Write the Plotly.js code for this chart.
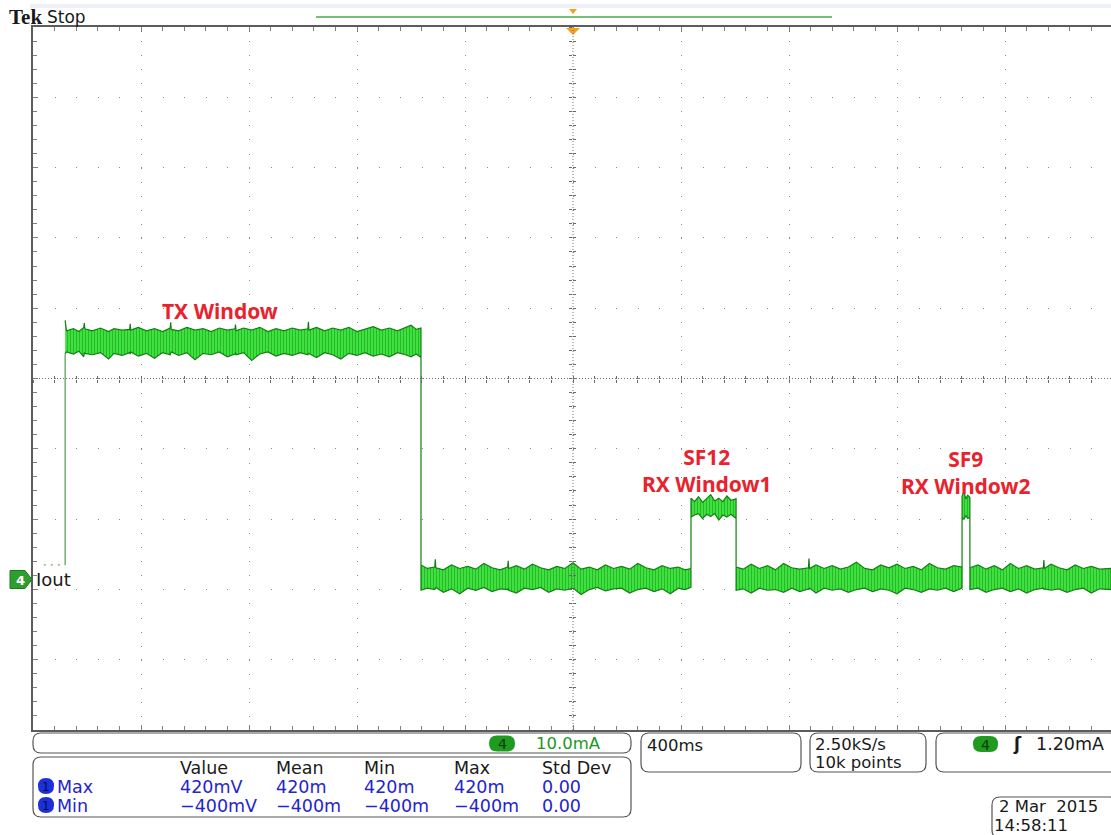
<!DOCTYPE html>
<html><head><meta charset="utf-8">
<script src="https://cdn.plot.ly/plotly-3.0.1.min.js"></script>
<style>html,body{margin:0;padding:0;background:#fff}#chart{width:1111px;height:835px}</style>
</head><body><div id="chart"></div>
<script>
// ---- Channel 4 (Iout) trace envelope, time in s (trigger = 0), current in mA ----
const preTime  = [-1.96, -1.881];
const preLevel = [2.0, 2.0];

const txTime = [-1.881,-1.876,-1.85,-1.83,-1.812,-1.81,-1.808,-1.78,-1.75,-1.72,-1.70,-1.67,-1.642,-1.64,-1.638,-1.61,-1.58,-1.55,-1.52,-1.492,-1.49,-1.488,-1.46,-1.43,-1.40,-1.37,-1.34,-1.31,-1.28,-1.252,-1.25,-1.248,-1.22,-1.19,-1.16,-1.13,-1.10,-1.07,-1.04,-1.01,-0.982,-0.98,-0.978,-0.95,-0.92,-0.89,-0.86,-0.83,-0.80,-0.77,-0.74,-0.71,-0.68,-0.65,-0.62,-0.60,-0.58,-0.563];
const txHigh = [36.8,35.3,35.6,35.2,35.8,36.4,35.6,35.3,35.7,35.2,35.6,35.4,35.5,36.3,35.4,35.8,35.3,35.6,35.2,35.7,36.5,35.5,35.3,35.8,35.4,35.6,35.2,35.7,35.4,35.6,36.2,35.3,35.7,35.4,35.8,35.2,35.6,35.3,35.7,35.4,35.6,36.6,35.4,35.8,35.3,35.7,35.4,35.8,35.2,35.6,35.9,35.4,35.7,35.3,35.8,36.1,35.5,35.7];
const txLow  = [32.0,32.3,32.0,32.4,31.6,32.2,32.1,31.9,32.2,31.3,32.1,31.8,32.2,32.0,32.3,31.7,32.1,31.4,32.2,31.9,32.1,32.3,31.8,32.2,31.2,32.1,31.9,32.3,31.6,32.0,32.2,31.9,32.2,31.1,32.0,32.3,31.7,32.1,31.8,32.2,31.9,32.1,32.0,31.5,32.2,31.9,31.3,32.1,31.8,32.2,31.7,32.0,31.6,32.2,31.9,31.6,32.0,31.5];

const idle1Time = [-0.563,-0.54,-0.512,-0.51,-0.508,-0.48,-0.45,-0.42,-0.39,-0.36,-0.33,-0.30,-0.27,-0.242,-0.24,-0.238,-0.21,-0.18,-0.15,-0.12,-0.09,-0.06,-0.03,0.0,0.03,0.06,0.09,0.12,0.15,0.18,0.21,0.24,0.27,0.30,0.33,0.36,0.39,0.415,0.437];
const idle1High = [2.0,1.5,1.7,2.8,1.6,1.3,2.0,1.5,1.8,1.4,2.2,1.6,1.3,1.7,2.6,1.5,1.9,1.4,2.1,1.6,1.3,1.8,1.5,2.3,1.4,1.7,1.3,2.0,1.5,1.8,1.4,2.2,1.6,1.3,1.9,1.5,1.7,1.3,1.5];
const idle1Low  = [-1.6,-1.3,-1.5,-1.4,-1.2,-1.9,-1.4,-2.1,-1.3,-1.6,-1.2,-1.8,-1.4,-1.5,-1.3,-1.6,-2.0,-1.3,-1.5,-1.2,-1.9,-1.4,-1.6,-1.3,-2.2,-1.5,-1.2,-1.7,-1.4,-1.3,-2.0,-1.5,-1.3,-1.8,-1.4,-2.1,-1.3,-1.5,-1.2];

const rx1Time = [0.437,0.45,0.465,0.48,0.495,0.51,0.525,0.54,0.555,0.57,0.585,0.604];
const rx1High = [11.5,11.0,11.7,10.9,11.4,12.0,11.1,11.5,11.0,11.8,11.2,11.4];
const rx1Low  = [8.8,9.1,9.3,8.6,9.2,8.9,9.3,8.4,9.1,8.8,9.2,8.6];

const idle2Time = [0.604,0.63,0.66,0.69,0.72,0.75,0.78,0.81,0.84,0.872,0.874,0.876,0.90,0.93,0.96,0.99,1.02,1.05,1.08,1.11,1.14,1.17,1.20,1.23,1.26,1.29,1.32,1.35,1.38,1.41,1.441];
const idle2High = [1.7,1.4,2.1,1.5,1.9,1.3,2.2,1.6,1.4,1.6,2.9,1.5,2.0,1.5,1.9,1.4,1.7,2.4,1.5,1.3,2.0,1.6,2.1,1.5,1.8,1.3,2.2,1.6,1.4,1.9,1.7];
const idle2Low  = [-1.6,-1.4,-2.0,-1.3,-1.6,-1.5,-1.9,-1.3,-1.8,-1.4,-1.5,-1.3,-2.0,-1.3,-1.6,-1.4,-1.9,-1.5,-1.3,-1.8,-1.4,-1.6,-2.1,-1.3,-1.5,-1.9,-1.4,-1.6,-1.3,-1.8,-1.3];

const rx2Time = [1.441,1.448,1.455,1.462,1.470];
const rx2High = [11.8,12.4,11.4,11.9,11.6];
const rx2Low  = [8.8,8.5,9.0,8.6,8.8];

const idle3Time = [1.470,1.50,1.53,1.56,1.59,1.62,1.65,1.68,1.71,1.742,1.744,1.746,1.77,1.80,1.83,1.86,1.89,1.92,1.95,1.993];
const idle3High = [1.6,2.0,1.4,1.9,1.3,2.2,1.5,1.9,1.4,1.6,2.7,1.5,2.1,1.6,1.3,2.0,1.5,1.8,1.4,1.5];
const idle3Low  = [-1.5,-1.3,-1.9,-1.5,-1.3,-1.8,-1.4,-2.0,-1.5,-1.3,-1.5,-1.4,-1.6,-1.4,-1.9,-1.5,-1.3,-2.0,-1.4,-1.5];

// ---- Labels on the trace ----
const labelTexts  = ['TX Window','SF12<br>RX Window1','SF9<br>RX Window2'];
const labelTimes  = [-1.307, 0.496, 1.456];
const labelLevels = [38.1, 15.5, 15.2];

// ---- Readouts ----
const chScale = '10.0mA';
const timebase = '400ms';
const sampleRate = '2.50kS/s';
const recordLen = '10k points';
const trigLevel = '1.20mA';
const dateText = '2 Mar\u00a0 2015';
const clockText = '14:58:11';
const measHeaders = ['Value','Mean','Min','Max','Std Dev'];
const measNames = ['Max','Min'];
const measRows = [
  ['420mV','420m','420m','420m','0.00'],
  ['\u2212400mV','\u2212400m','\u2212400m','\u2212400m','0.00']
];

// ---- Geometry ----
const W=1111, H=835, L=33, R=0, T=27, B=105;
const PW=W-L-R, PH=H-T-B;
const pxPerSec = 108/0.4;
const xLeft = -2.0, xRight = xLeft + PW/pxPerSec;
const pxPerMA = (PH/10)/10;            // 10 divisions, 10 mA/div
const zeroPx = 579;
const yTop = (zeroPx - T)/pxPerMA, yBot = yTop - 100;
const yMid = (yTop + yBot)/2;
const px = x => (x - L)/PW;
const py = y => (H - B - y)/PH;

// envelope polygon
const envTime = [].concat(txTime, idle1Time, rx1Time, idle2Time, rx2Time, idle3Time);
const envHigh = [].concat(txHigh, idle1High, rx1High, idle2High, rx2High, idle3High);
const envLow  = [].concat(txLow, idle1Low, rx1Low, idle2Low, rx2Low, idle3Low);
const polyT = envTime.concat(envTime.slice().reverse());
const polyV = envHigh.concat(envLow.slice().reverse());

const traces = [
  {x: preTime, y: preLevel, type:'scatter', mode:'lines', hoverinfo:'skip',
   line:{color:'#3a9a3a', width:1, dash:'2px,5px'}},
  {x: [envTime[0], envTime[0]], y: [preLevel[preLevel.length-1], envLow[0]], type:'scatter', mode:'lines',
   hoverinfo:'skip', line:{color:'#2a8a2a', width:1}},
  {x: polyT, y: polyV, type:'scatter', mode:'lines', fill:'toself', hoverinfo:'skip',
   fillcolor:'#38dc38', line:{color:'#137f13', width:1.2},
   fillpattern:{shape:'|', size:3, solidity:0.25, fgcolor:'#24a824', bgcolor:'#3ee23e', fillmode:'replace'}},
  {x:[], y:[], xaxis:'x2', yaxis:'y', hoverinfo:'skip'},
  {x:[], y:[], xaxis:'x3', yaxis:'y', hoverinfo:'skip'},
  {x:[], y:[], xaxis:'x', yaxis:'y2', hoverinfo:'skip'},
  {x:[], y:[], xaxis:'x', yaxis:'y3', hoverinfo:'skip'}
];

function rbox(x0,y0,x1,y1,r){
  const X=px, Y=py;
  return `M${X(x0+r)},${Y(y0)} L${X(x1-r)},${Y(y0)} Q${X(x1)},${Y(y0)} ${X(x1)},${Y(y0+r)} `+
         `L${X(x1)},${Y(y1-r)} Q${X(x1)},${Y(y1)} ${X(x1-r)},${Y(y1)} L${X(x0+r)},${Y(y1)} `+
         `Q${X(x0)},${Y(y1)} ${X(x0)},${Y(y1-r)} L${X(x0)},${Y(y0+r)} Q${X(x0)},${Y(y0)} ${X(x0+r)},${Y(y0)} Z`;
}
function poly(pts){
  return 'M' + pts.map(p => px(p[0]) + ',' + py(p[1])).join(' L') + ' Z';
}
const boxLine = {color:'#555', width:1.2};
const shapes = [
  {type:'rect', xref:'paper', yref:'paper', x0:px(30), x1:px(1111), y0:py(4), y1:py(8), fillcolor:'#eef0f7', line:{width:0}, layer:'below'},
  {type:'line', xref:'paper', yref:'paper', x0:px(316), x1:px(832), y0:py(17), y1:py(17), line:{color:'#4aa84a', width:1.5}},
  {type:'path', xref:'paper', yref:'paper', path:poly([[569,9],[577,9],[573,14]]), fillcolor:'#f3a01d', line:{width:0}},
  {type:'path', xref:'paper', yref:'paper', path:poly([[566,28],[580,28],[573,35]]), fillcolor:'#f3a01d', line:{width:0}},
  {type:'line', xref:'x', yref:'paper', x0:0, x1:0, y0:0, y1:1, line:{color:'#707070', width:1, dash:'1px,2px'}},
  {type:'line', xref:'paper', yref:'y', x0:0, x1:1, y0:yMid, y1:yMid, line:{color:'#707070', width:1, dash:'1px,2px'}},
  {type:'path', xref:'paper', yref:'paper', path:poly([[10,570.5],[25,570.5],[32,579.5],[25,588.5],[10,588.5]]), fillcolor:'#2e9e2e', line:{color:'#1c7c1c', width:1}},
  {type:'path', xref:'paper', yref:'paper', path:rbox(33,733,631,753,8), line:boxLine},
  {type:'path', xref:'paper', yref:'paper', path:rbox(33,757,631,817,8), line:boxLine},
  {type:'path', xref:'paper', yref:'paper', path:rbox(641,733,801,772,8), line:boxLine},
  {type:'path', xref:'paper', yref:'paper', path:rbox(810,733,926,772,8), line:boxLine},
  {type:'path', xref:'paper', yref:'paper', path:rbox(936,733,1118,772,8), line:boxLine},
  {type:'path', xref:'paper', yref:'paper', path:rbox(992,797,1118,838,8), line:boxLine},
  {type:'path', xref:'paper', yref:'paper', path:rbox(489,735.5,515,751.5,8), fillcolor:'#1f9c1f', line:{width:0}},
  {type:'path', xref:'paper', yref:'paper', path:rbox(973,736,998,752,8), fillcolor:'#1f9c1f', line:{width:0}},
  {type:'path', xref:'paper', yref:'paper', path:rbox(38,778,54,794,8), fillcolor:'#1c2fd8', line:{width:0}},
  {type:'path', xref:'paper', yref:'paper', path:rbox(38,797,54,813,8), fillcolor:'#1c2fd8', line:{width:0}}
];

const F = 'DejaVu Sans';
const black = '#1a1a1a', blue = '#2424cc', green = '#1b991b', red = '#e8232d';
function txt(text, x, y, opt){
  opt = opt || {};
  return {text:text, xref:'paper', yref:'paper', x:px(x), y:py(y), xanchor:opt.anchor||'left', yanchor:'middle',
          align:'left', showarrow:false, borderpad:0,
          font:{family:opt.family||F, size:opt.size||16, color:opt.color||black, weight:opt.weight||'normal'}};
}
const annotations = [];
annotations.push(txt('Tek', 8, 17.5, {family:'Liberation Serif', size:21, weight:'bold'}));
annotations.push(txt('Stop', 46, 17, {size:17}));
annotations.push(txt('4', 20, 580, {size:13, color:'#ffffff', anchor:'center', weight:'bold'}));
annotations.push(txt('Iout', 35, 579, {size:18}));
annotations.push(txt('4', 502, 744, {size:14, color:'#0b3b0b', anchor:'center'}));
annotations.push(txt(chScale, 535, 743.5, {color:green, size:16.5}));
const colX = [179, 275, 363, 453, 541];
measHeaders.forEach((h,i) => annotations.push(txt(h, colX[i], 767.5, {size:17.5})));
const rowY = [786.5, 805.5];
measNames.forEach((n,r) => {
  annotations.push(txt('1', 46, rowY[r], {size:12, color:'#0a0a4a', anchor:'center'}));
  annotations.push(txt(n, 56, rowY[r], {color:blue, size:17.5}));
  measRows[r].forEach((v,i) => annotations.push(txt(v, colX[i], rowY[r], {color:blue, size:17.5})));
});
annotations.push(txt(timebase, 646, 745, {size:16.5}));
annotations.push(txt(sampleRate, 814, 744, {size:16.5}));
annotations.push(txt(recordLen, 814, 762.5, {size:16.5}));
annotations.push(txt('4', 985.5, 744.5, {size:14, color:'#0b3b0b', anchor:'center'}));
annotations.push(txt('\u0283', 1012, 744, {size:17, weight:'bold'}));
annotations.push(txt(trigLevel, 1035, 744, {size:17.5}));
annotations.push(txt(dateText, 998, 806.5, {size:16.5}));
annotations.push(txt(clockText, 993, 825.5, {size:16.5}));
labelTexts.forEach((s,i) => annotations.push({text:s, x:labelTimes[i], y:labelLevels[i], xref:'x', yref:'y',
  showarrow:false, xanchor:'center', yanchor:'middle', align:'center',
  font:{family:'Noto Sans', size:21, color:red, weight:'bold'}}));

const axCommon = {showticklabels:false, zeroline:false, fixedrange:true};
const layout = {
  width:W, height:H, margin:{l:L, r:R, t:T, b:B, pad:0},
  paper_bgcolor:'#ffffff', plot_bgcolor:'#ffffff', showlegend:false, hovermode:false,
  xaxis: Object.assign({}, axCommon, {range:[xLeft, xRight], tick0:0, dtick:0.4,
    showgrid:true, gridcolor:'#8a8a8a', gridwidth:1, griddash:'1px,13.06px',
    ticks:'inside', ticklen:5, tickcolor:'#808080', tickwidth:1,
    showline:true, linecolor:'#5c5c5c', linewidth:2, mirror:'ticks',
    minor:{tick0:0, dtick:0.08, ticks:'inside', ticklen:4, tickcolor:'#808080', showgrid:false}}),
  yaxis: Object.assign({}, axCommon, {range:[yBot, yTop], tick0:yBot, dtick:10,
    showgrid:true, gridcolor:'#8a8a8a', gridwidth:1, griddash:'1px,20.6px',
    ticks:'inside', ticklen:5, tickcolor:'#808080', tickwidth:1,
    showline:true, linecolor:'#5c5c5c', linewidth:2, mirror:false,
    minor:{tick0:yBot, dtick:2, ticks:'inside', ticklen:4, tickcolor:'#808080', showgrid:false}}),
  xaxis2: Object.assign({}, axCommon, {overlaying:'x', anchor:'free', position:0.5, range:[xLeft, xRight],
    tick0:0, dtick:0.08, ticks:'outside', ticklen:3, tickcolor:'#6a6a6a', showgrid:false, showline:false}),
  xaxis3: Object.assign({}, axCommon, {overlaying:'x', anchor:'free', position:0.5, range:[xLeft, xRight],
    tick0:0, dtick:0.08, ticks:'inside', ticklen:3, tickcolor:'#6a6a6a', showgrid:false, showline:false}),
  yaxis2: Object.assign({}, axCommon, {overlaying:'y', anchor:'free', position:0.5, range:[yBot, yTop],
    tick0:yBot, dtick:2, ticks:'outside', ticklen:3, tickcolor:'#6a6a6a', showgrid:false, showline:false}),
  yaxis3: Object.assign({}, axCommon, {overlaying:'y', anchor:'free', position:0.5, range:[yBot, yTop],
    tick0:yBot, dtick:2, ticks:'inside', ticklen:3, tickcolor:'#6a6a6a', showgrid:false, showline:false}),
  shapes: shapes,
  annotations: annotations
};
Plotly.newPlot('chart', traces, layout, {staticPlot:true, displayModeBar:false});
</script>
</body></html>
